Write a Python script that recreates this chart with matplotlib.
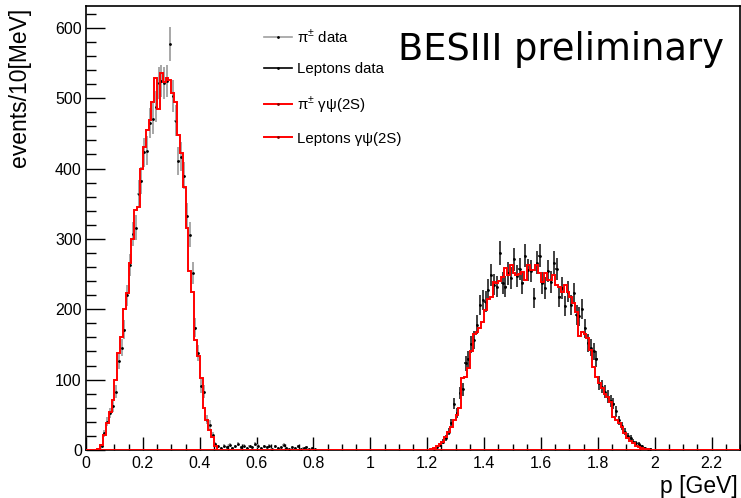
import numpy as np
import matplotlib
matplotlib.use("Agg")
import matplotlib.pyplot as plt
from matplotlib.lines import Line2D
from matplotlib.ticker import MultipleLocator, FuncFormatter

plt.rcParams['font.family'] = ['Liberation Sans', 'DejaVu Sans']
plt.rcParams['mathtext.fontset'] = 'custom'
plt.rcParams['mathtext.rm'] = 'Liberation Sans'

# ---------------- data (10 MeV bins) ----------------
bin_width = 0.01
p_range = (0.0, 2.3)

pion_mc_start = 0.04
pion_mc = [1, 7, 21, 38, 54, 71, 100, 138, 160, 200,
           223, 266, 300, 341, 345, 400, 430, 455, 469, 494,
           528, 485, 536, 523, 528, 526, 508, 494, 448, 422,
           374, 316, 254, 225, 156, 133, 102, 59, 43, 28,
           19, 5]

pion_data_start = 0.05
pion_data = [6, 24, 40, 52, 62, 83, 126, 145, 171, 220,
             263, 307, 316, 364, 383, 423, 425, 465, 471, 488,
             521, 524, 522, 524, 577, 503, 468, 411, 417, 390,
             333, 306, 252, 174, 138, 91, 83, 43, 36, 21,
             8, 5, 3, 6, 4, 7, 3, 5, 9, 4,
             6, 3, 5, 4, 8, 6, 3, 5, 4, 6,
             2, 5, 3, 4, 7, 3, 2, 4, 3, 5,
             2, 3, 4, 2, 3, 2]

lep_mc_start = 1.21
lep_mc = [2, 3, 5, 8, 12, 18, 26, 33, 43, 50,
          60, 102, 104, 116, 140, 165, 168, 174, 182, 199,
          214, 218, 239, 237, 240, 246, 259, 249, 263, 251,
          249, 250, 253, 242, 263, 256, 256, 263, 251, 239,
          251, 242, 242, 249, 235, 232, 225, 235, 225, 218,
          209, 196, 162, 168, 165, 159, 142, 118, 104, 95,
          88, 80, 75, 68, 47, 43, 38, 32, 24, 17,
          13, 10, 6, 4, 3, 1, 1]

lep_data_start = 1.22
lep_data = [2, 4, 7, 12, 17, 26, 38, 66, 52, 81,
            86, 123, 130, 150, 156, 178, 206, 213, 211, 228,
            249, 235, 232, 280, 237, 232, 251, 244, 271, 247,
            257, 237, 276, 256, 254, 216, 266, 276, 237, 230,
            254, 239, 266, 257, 218, 230, 205, 225, 206, 223,
            192, 190, 201, 173, 152, 145, 140, 130, 95, 90,
            83, 76, 70, 66, 55, 42, 34, 26, 20, 17,
            12, 10, 9, 5, 3, 2, 1]

legend_labels = ["π$^{\\pm}$ data", "Leptons data",
                 "π$^{\\pm}$ γψ(2S)", "Leptons γψ(2S)"]

# ---------------- histogram arrays ----------------
nbins = int(round((p_range[1] - p_range[0]) / bin_width))
edges = p_range[0] + bin_width * np.arange(nbins + 1)
centers = 0.5 * (edges[:-1] + edges[1:])


def fill(start, vals):
    h = np.zeros(nbins)
    i0 = int(round((start - p_range[0]) / bin_width))
    h[i0:i0 + len(vals)] = vals
    return h


h_pi_mc = fill(pion_mc_start, pion_mc)
h_pi_data = fill(pion_data_start, pion_data)
h_lep_mc = fill(lep_mc_start, lep_mc)
h_lep_data = fill(lep_data_start, lep_data)

# ---------------- figure ----------------
fig = plt.figure(figsize=(7.41, 4.98), dpi=100)
ax = fig.add_axes([86 / 741, 1 - 450 / 498, 654 / 741, 444 / 498])

m = h_pi_data > 0
ax.errorbar(centers[m], h_pi_data[m], yerr=np.sqrt(h_pi_data[m]), xerr=0.004,
            fmt='.', ms=2.0, color='black', ecolor='#a0a0a0', elinewidth=1.3,
            capsize=0, zorder=2)
m = h_lep_data > 0
ax.errorbar(centers[m], h_lep_data[m], yerr=np.sqrt(h_lep_data[m]), xerr=0.004,
            fmt='.', ms=2.0, color='black', ecolor='#202020', elinewidth=1.2,
            capsize=0, zorder=2)

ax.stairs(h_pi_mc, edges, color='red', lw=1.4, zorder=3)
ax.stairs(h_lep_mc, edges, color='red', lw=1.4, zorder=3)

ax.set_xlim(p_range)
ax.set_ylim(0, 631)

ax.xaxis.set_major_locator(MultipleLocator(0.2))
ax.xaxis.set_minor_locator(MultipleLocator(0.05))
ax.yaxis.set_major_locator(MultipleLocator(100))
ax.yaxis.set_minor_locator(MultipleLocator(20))
ax.xaxis.set_major_formatter(FuncFormatter(lambda v, pos: f"{v:g}"))
ax.yaxis.set_major_formatter(FuncFormatter(lambda v, pos: f"{v:g}"))

ax.tick_params(axis='both', which='both', direction='in', top=False, right=False,
               labelsize=11.5, colors='black')
ax.tick_params(axis='y', which='major', length=14, width=1, pad=3)
ax.tick_params(axis='y', which='minor', length=7, width=1)
ax.tick_params(axis='x', which='major', length=9.5, width=1, pad=4)
ax.tick_params(axis='x', which='minor', length=4.5, width=1)
for s in ax.spines.values():
    s.set_linewidth(1.2)

fig.text(738 / 741, 1 - 493 / 498, "p [GeV]", ha='right', va='baseline', fontsize=16.5)
fig.text(8 / 741, 1 - 8 / 498, "events/10[MeV]", rotation=90, ha='left', va='top',
         fontsize=16.5)

fig.text(398 / 741, 1 - 49 / 498, "BESIII preliminary", ha='left', va='center',
         fontsize=26.5, family='DejaVu Sans')

handles = [
    Line2D([], [], color='#a0a0a0', lw=1.2, marker='.', ms=2, mfc='black', mec='black'),
    Line2D([], [], color='black', lw=1.2, marker='.', ms=2, mfc='black', mec='black'),
    Line2D([], [], color='red', lw=1.4, marker='.', ms=2, mfc='#800000', mec='#800000'),
    Line2D([], [], color='red', lw=1.4, marker='.', ms=2, mfc='#800000', mec='#800000'),
]
leg = fig.legend(handles, legend_labels, loc='upper left', numpoints=1,
                 bbox_to_anchor=(264 / 741, 1 - 27 / 498), frameon=False,
                 fontsize=10.8, handlelength=1.85, handletextpad=0.35,
                 labelspacing=1.15, borderaxespad=0, borderpad=0)

fig.savefig("out.png", dpi=100)
